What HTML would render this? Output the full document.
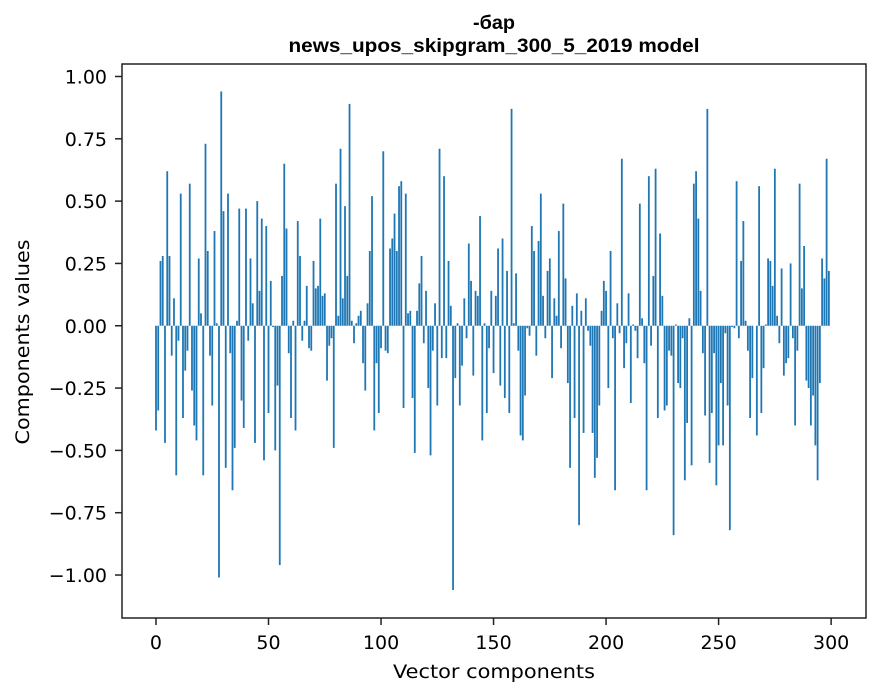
<!DOCTYPE html>
<html><head><meta charset="utf-8"><style>
body{margin:0;background:#fff}
svg{display:block;font-family:"DejaVu Sans","Liberation Sans",sans-serif}
svg text.ttl{font-family:"Liberation Sans",sans-serif;font-weight:bold}
</style></head><body>
<svg id="chart" width="880" height="696" viewBox="0 0 880 696"></svg>
<script>
const values = [
-0.42,-0.34,0.26,0.28,-0.47,0.62,0.28,-0.12,0.11,-0.60,
-0.06,0.53,-0.37,-0.18,-0.10,0.57,-0.26,-0.40,-0.46,0.27,
0.05,-0.60,0.73,0.30,-0.12,-0.32,0.38,0.01,-1.01,0.94,
0.46,-0.57,0.53,-0.11,-0.66,-0.49,0.02,0.47,-0.30,-0.41,
0.47,-0.06,0.27,0.09,-0.47,0.50,0.14,0.43,-0.54,0.40,
-0.35,0.18,-0.005,-0.50,-0.24,-0.96,0.20,0.65,0.39,-0.11,
-0.37,0.02,-0.42,0.42,0.28,-0.06,0.02,0.16,-0.09,-0.10,
0.26,0.15,0.16,0.43,0.12,0.13,-0.22,-0.08,-0.05,-0.49,
0.57,0.04,0.71,0.11,0.48,0.20,0.89,0.02,-0.07,0.01,
0.04,0.06,-0.15,-0.26,0.09,0.30,0.52,-0.42,-0.15,-0.35,
-0.09,0.70,-0.10,-0.11,0.31,0.35,0.45,0.30,0.56,0.58,
-0.33,0.53,0.05,0.06,-0.29,-0.51,0.06,0.17,0.28,-0.07,
0.14,-0.25,-0.52,-0.10,0.09,-0.32,0.71,-0.13,0.60,-0.13,
0.26,0.08,-1.06,-0.21,0.01,-0.32,-0.16,0.11,-0.05,0.33,
0.18,-0.20,0.14,0.12,0.44,-0.46,0.01,-0.35,-0.09,0.14,
-0.19,0.12,0.31,-0.24,0.35,-0.29,0.22,-0.35,0.87,0.01,
0.21,-0.10,-0.44,-0.46,-0.28,-0.01,-0.04,0.40,0.30,-0.12,
0.34,0.53,0.12,-0.05,0.22,0.27,-0.21,0.11,0.04,0.38,
-0.09,0.49,0.19,-0.23,-0.57,0.08,-0.37,0.13,-0.80,0.06,
-0.43,0.11,-0.02,-0.08,-0.43,-0.61,-0.53,-0.32,0.06,0.18,
0.14,-0.25,0.30,-0.05,-0.66,0.09,-0.03,0.67,-0.17,-0.07,
0.13,-0.31,0.005,-0.02,-0.13,0.49,0.03,-0.15,-0.66,0.60,
-0.08,0.20,0.63,-0.37,0.37,0.12,-0.34,-0.32,-0.10,-0.12,
-0.84,0.005,-0.23,-0.25,-0.05,-0.62,-0.39,0.03,-0.56,0.57,
0.62,0.43,0.14,-0.11,-0.36,0.87,-0.55,-0.35,-0.11,-0.64,
-0.48,-0.23,-0.48,-0.03,-0.32,-0.82,-0.005,-0.01,0.58,-0.05,
0.26,0.42,0.02,-0.10,-0.37,-0.21,0.0,-0.44,0.56,-0.35,
-0.17,0.005,0.27,0.26,0.16,0.63,0.04,-0.07,0.23,-0.20,
-0.15,-0.13,0.25,-0.05,-0.40,-0.10,0.57,0.15,0.32,-0.22,
-0.25,-0.40,-0.28,-0.48,-0.62,-0.23,0.27,0.19,0.67,0.22
];
const xTicks = [0,50,100,150,200,250,300];
const yTicks = [-1.00,-0.75,-0.50,-0.25,0.00,0.25,0.50,0.75,1.00];
const titleLines = ["-бар","news_upos_skipgram_300_5_2019 model"];

const NS = "http://www.w3.org/2000/svg";
const svg = document.getElementById('chart');
const L=122,R=866,T=64,B=618;
const xmin=-15.1,xmax=315.5,ymin=-1.1724,ymax=1.0501;
const xs = v => L + (v-xmin)/(xmax-xmin)*(R-L);
const ys = v => B - (v-ymin)/(ymax-ymin)*(B-T);
function mk(tag, attrs, parent){const e=document.createElementNS(NS,tag);for(const k in attrs)e.setAttribute(k,attrs[k]);(parent||svg).appendChild(e);return e;}

const bars = mk('g',{});


values.forEach((v,i)=>{
  const x0=xs(i-0.4), x1=xs(i+0.4);
  const y0=ys(Math.max(v,0)), y1=ys(Math.min(v,0));
  const r=mk('rect',{x:x0,y:y0,width:x1-x0,height:Math.max(y1-y0,0.01),fill:'#1f77b4'},bars);
  
  
});

const frame=mk('rect',{x:L,y:T,width:R-L,height:B-T,fill:'none',stroke:'#222','stroke-width':1.5});



xTicks.forEach(t=>{
  const x=xs(t);
  const tk=mk('line',{x1:x,x2:x,y1:B,y2:B+7,stroke:'#222','stroke-width':1.5});
  
  
  const tx=mk('text',{x:x,y:B+31,'text-anchor':'middle','font-size':19,fill:'#000'});
  tx.textContent=String(t);
  
  
});
yTicks.forEach(t=>{
  const y=ys(t);
  const tk=mk('line',{x1:L-7,x2:L,y1:y,y2:y,stroke:'#222','stroke-width':1.5});
  
  
  const tx=mk('text',{x:L-15,y:y+7,'text-anchor':'end','font-size':19,fill:'#000'});
  tx.textContent=t.toFixed(2).replace('-','\u2212');
  
  
});
const xl=mk('text',{x:494,y:678,'text-anchor':'middle','font-size':19,fill:'#000',textLength:202,lengthAdjust:'spacingAndGlyphs'});
xl.textContent='Vector components';


const yl=mk('text',{x:29,y:342,'text-anchor':'middle','font-size':19,fill:'#000',textLength:205,lengthAdjust:'spacingAndGlyphs',transform:'rotate(-90 29 342)'});
yl.textContent='Components values';


const tw=[42,411];
titleLines.forEach((s,k)=>{
  const tt=mk('text',{x:494,y:29+k*23,'text-anchor':'middle','font-size':19,fill:'#000','class':'ttl',textLength:tw[k],lengthAdjust:'spacingAndGlyphs'});
  tt.textContent=s;
  
  
});
</script>
</body></html>
